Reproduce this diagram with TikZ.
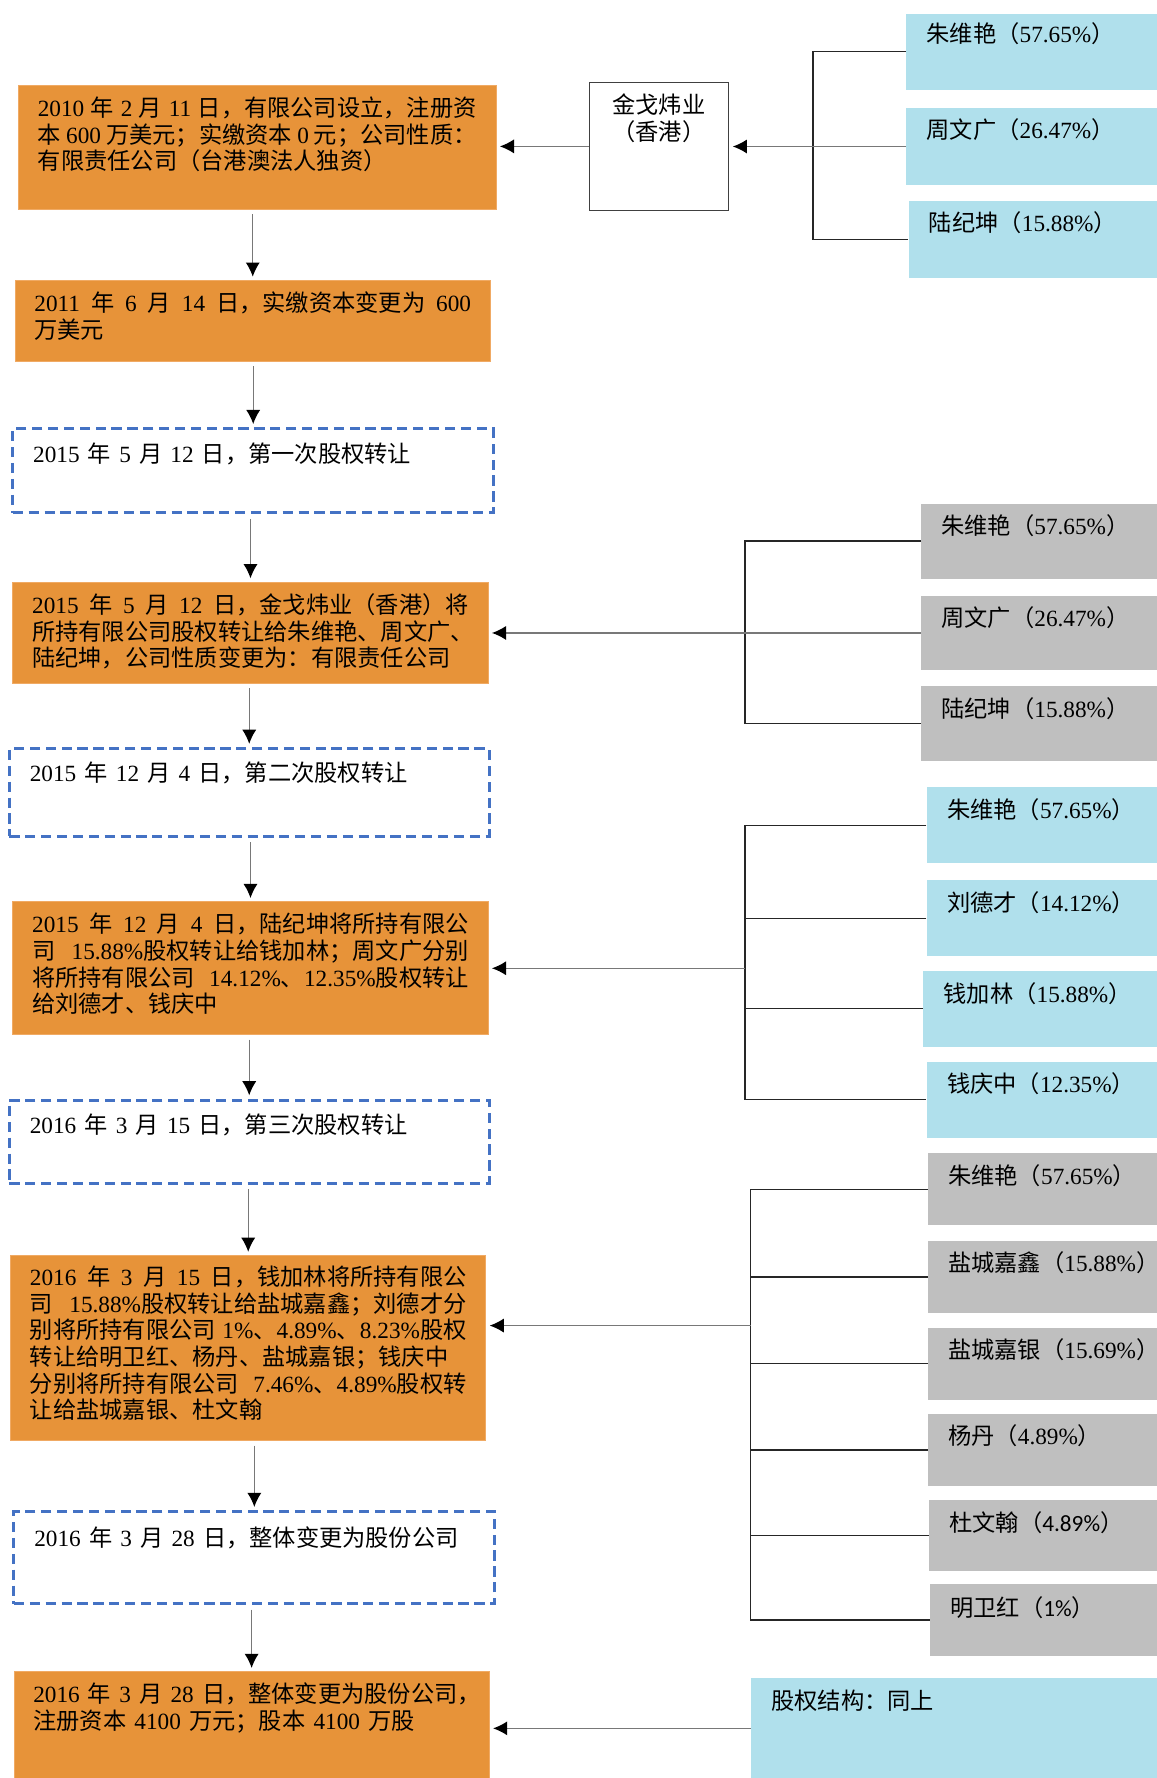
\documentclass[tikz,border=0pt]{standalone}
\usepackage{fontspec}
\setmainfont{Noto Sans CJK SC}
\newfontfamily\serifnumfont{Liberation Serif}
\newfontfamily\calnumfont{Carlito}
\usetikzlibrary{arrows.meta}
\newcommand\numS[1]{{\serifnumfont #1}}
\newcommand\numC[1]{{\calnumfont #1}}
\newcommand\JL[1]{\makebox[\linewidth][s]{#1}}
\newcommand\PL[1]{\mbox{\spaceskip=7.2pt\relax #1}}
\newcommand\boxtext[4]{\parbox[c][#2][t]{#1}{\vspace*{#3}#4}}
\definecolor{orangebox}{RGB}{231,147,57}
\definecolor{orangeedge}{RGB}{240,170,100}
\definecolor{bluebox}{RGB}{176,224,236}
\definecolor{graybox}{RGB}{191,191,191}
\definecolor{dashblue}{RGB}{68,114,196}
\definecolor{linegray}{RGB}{120,120,120}
\begin{document}
\begin{tikzpicture}[x=1pt,y=-1pt,
 txt/.style={font=\fontsize{20.5pt}{23.5pt}\selectfont, inner ysep=0pt, anchor=north west, text=black},
 obox/.style={txt, fill=orangebox, draw=orangeedge, line width=0.8pt, inner xsep=17pt},
 dbox/.style={txt, draw=dashblue, line width=2.6pt, dash pattern=on 9pt off 5pt, inner xsep=18pt},
 bbox/.style={txt, fill=bluebox, inner xsep=18pt},
 gbox/.style={txt, fill=graybox, inner xsep=18pt},
 wbox/.style={txt, draw=black!75, line width=1.2pt, inner xsep=0pt},
 conn/.style={draw=black!85, line width=1.1pt},
 arr/.style={draw=linegray, line width=1.2pt, -{Latex[length=12.5pt,width=12.5pt,color=black]}, shorten >=3pt},
]
\useasboundingbox (0,0) rectangle (1020,1568);

% left column
\node[obox] (b1) at (16,75) {\boxtext{387pt}{109pt}{10pt}{\JL{\numS{2010} 年 \numS{2} 月 \numS{11} 日，有限公司设立，注册资}\\\JL{本 \numS{600} 万美元；实缴资本 \numS{0} 元；公司性质：}\\\PL{有限责任公司（台港澳法人独资）}}};
\node[obox] (b2) at (13,247) {\boxtext{385pt}{71pt}{10pt}{\JL{\numS{2011} 年 \numS{6} 月 \numS{14} 日，实缴资本变更为 \numS{600}}\\\PL{万美元}}};
\node[dbox] (b3) at (10,377) {\boxtext{388pt}{74pt}{12pt}{\PL{\numS{2015} 年 \numS{5} 月 \numS{12} 日，第一次股权转让}}};
\node[obox] (b4) at (11,513) {\boxtext{385pt}{89pt}{10pt}{\JL{\numS{2015} 年 \numS{5} 月 \numS{12} 日，金戈炜业（香港）将}\\\JL{所持有限公司股权转让给朱维艳、周文广、}\\\PL{陆纪坤，公司性质变更为：有限责任公司}}};
\node[dbox] (b5) at (7,659) {\boxtext{387pt}{77pt}{12pt}{\PL{\numS{2015} 年 \numS{12} 月 \numS{4} 日，第二次股权转让}}};
\node[obox] (b6) at (11,795) {\boxtext{385pt}{117pt}{10pt}{\JL{\numS{2015} 年 \numS{12} 月 \numS{4} 日，陆纪坤将所持有限公}\\\JL{司 \numS{15.88\%}股权转让给钱加林；周文广分别}\\\JL{将所持有限公司 \numS{14.12\%}、\numS{12.35\%}股权转让}\\\PL{给刘德才、钱庆中}}};
\node[dbox] (b7) at (7,969) {\boxtext{387pt}{73pt}{12pt}{\PL{\numS{2016} 年 \numS{3} 月 \numS{15} 日，第三次股权转让}}};
\node[obox] (b8) at (9,1107) {\boxtext{385pt}{163pt}{9pt}{\JL{\numS{2016} 年 \numS{3} 月 \numS{15} 日，钱加林将所持有限公}\\\JL{司 \numS{15.88\%}股权转让给盐城嘉鑫；刘德才分}\\\JL{别将所持有限公司 \numS{1\%}、\numS{4.89\%}、\numS{8.23\%}股权}\\\JL{转让给明卫红、杨丹、盐城嘉银；钱庆中}\\\JL{分别将所持有限公司 \numS{7.46\%}、\numS{4.89\%}股权转}\\\PL{让给盐城嘉银、杜文翰}}};
\node[dbox] (b9) at (11,1332) {\boxtext{388pt}{81pt}{13pt}{\PL{\numS{2016} 年 \numS{3} 月 \numS{28} 日，整体变更为股份公司}}};
\node[obox] (b10) at (12,1474) {\boxtext{385pt}{94pt}{10pt}{\PL{\numS{2016} 年 \numS{3} 月 \numS{28} 日，整体变更为股份公司，}\\\PL{注册资本 \numS{4100} 万元；股本 \numS{4100} 万股}}};

% vertical arrows
\draw[arr, shorten <=4pt] (b1.south -| b2.north) -- (b2.north);
\draw[arr, shorten <=4pt] (b2.south -| b3.north) -- (b3.north);
\draw[arr, shorten <=4pt] (b3.south -| b4.north) -- (b4.north);
\draw[arr, shorten <=4pt] (b4.south -| b5.north) -- (b5.north);
\draw[arr, shorten <=4pt] (b5.south -| b6.north) -- (b6.north);
\draw[arr, shorten <=4pt] (b6.south -| b7.north) -- (b7.north);
\draw[arr, shorten <=4pt] (b7.south -| b8.north) -- (b8.north);
\draw[arr, shorten <=4pt] (b8.south -| b9.north) -- (b9.north);
\draw[arr, shorten <=4pt] (b9.south -| b10.north) -- (b10.north);

% group 1
\node[wbox] (jg) at (519,72) {\boxtext{123pt}{113pt}{10pt}{\centering 金戈炜业\\（香港）}};
\node[bbox] (a1) at (799,12) {\boxtext{185pt}{67pt}{8pt}{\PL{朱维艳（\numS{57.65\%}）}}};
\node[bbox] (a2) at (799,95) {\boxtext{185pt}{68pt}{9pt}{\PL{周文广（\numS{26.47\%}）}}};
\node[bbox] (a3) at (801,177) {\boxtext{183pt}{68pt}{9pt}{\PL{陆纪坤（\numS{15.88\%}）}}};
\coordinate (bus1) at (717,0);
\draw[conn] (a1.west) -- (a1.west -| bus1) -- (a3.west -| bus1) -- (a3.west);
\draw[arr] (a2.west) -- (a2.west -| jg.east);
\draw[arr] (jg.west) -- (jg.west -| b1.east);

% group 2
\node[gbox] (g1) at (812,444) {\boxtext{172pt}{66pt}{10pt}{\PL{朱维艳（\numS{57.65\%}）}}};
\node[gbox] (g2) at (812,525) {\boxtext{172pt}{66pt}{10pt}{\PL{周文广（\numS{26.47\%}）}}};
\node[gbox] (g3) at (812,605) {\boxtext{172pt}{66pt}{10pt}{\PL{陆纪坤（\numS{15.88\%}）}}};
\coordinate (bus2) at (657,0);
\draw[conn] (g1.west) -- (g1.west -| bus2) -- (g3.west -| bus2) -- (g3.west);
\draw[arr] (g2.west) -- (g2.west -| b4.east);

% group 3
\node[bbox] (c1) at (817,694) {\boxtext{167pt}{67pt}{10pt}{\PL{朱维艳（\numS{57.65\%}）}}};
\node[bbox] (c2) at (817,776) {\boxtext{167pt}{67pt}{10pt}{\PL{刘德才（\numS{14.12\%}）}}};
\node[bbox] (c3) at (814,856) {\boxtext{170pt}{67pt}{10pt}{\PL{钱加林（\numS{15.88\%}）}}};
\node[bbox] (c4) at (817,936) {\boxtext{167pt}{67pt}{10pt}{\PL{钱庆中（\numS{12.35\%}）}}};
\coordinate (bus3) at (657,0);
\draw[conn] (c1.west) -- (c1.west -| bus3) -- (c4.west -| bus3) -- (c4.west);
\draw[conn] (c2.west) -- (c2.west -| bus3);
\draw[conn] (c3.west) -- (c3.west -| bus3);
\draw[arr] (b6.east -| bus3) -- (b6.east);

% group 4
\node[gbox] (d1) at (818,1017) {\boxtext{166pt}{63pt}{10pt}{\PL{朱维艳（\numS{57.65\%}）}}};
\node[gbox] (d2) at (818,1094) {\boxtext{166pt}{64pt}{10pt}{\PL{盐城嘉鑫（\numS{15.88\%}）}}};
\node[gbox] (d3) at (818,1171) {\boxtext{166pt}{63pt}{9pt}{\PL{盐城嘉银（\numS{15.69\%}）}}};
\node[gbox] (d4) at (818,1247) {\boxtext{166pt}{63pt}{9pt}{\PL{杨丹（\numS{4.89\%}）}}};
\node[gbox] (d5) at (819,1323) {\boxtext{165pt}{62pt}{10pt}{\PL{杜文翰（\numC{4.89\%}）}}};
\node[gbox] (d6) at (820,1397) {\boxtext{164pt}{63pt}{11pt}{\PL{明卫红（\numC{1\%}）}}};
\coordinate (bus4) at (662,0);
\coordinate (j4) at (662,1169);
\draw[conn] (d1.west) -- (d1.west -| bus4) -- (d6.west -| bus4) -- (d6.west);
\draw[conn] (d2.west) -- (d2.west -| bus4);
\draw[conn] (d3.west) -- (d3.west -| bus4);
\draw[conn] (d4.west) -- (d4.west -| bus4);
\draw[conn] (d5.west) -- (d5.west -| bus4);
\draw[arr] (j4) -- (j4 -| b8.east);

% group 5
\node[bbox] (e) at (662,1480) {\boxtext{322pt}{88pt}{10pt}{\PL{股权结构：同上}}};
\draw[arr] (e.west) -- (e.west -| b10.east);
\end{tikzpicture}
\end{document}
